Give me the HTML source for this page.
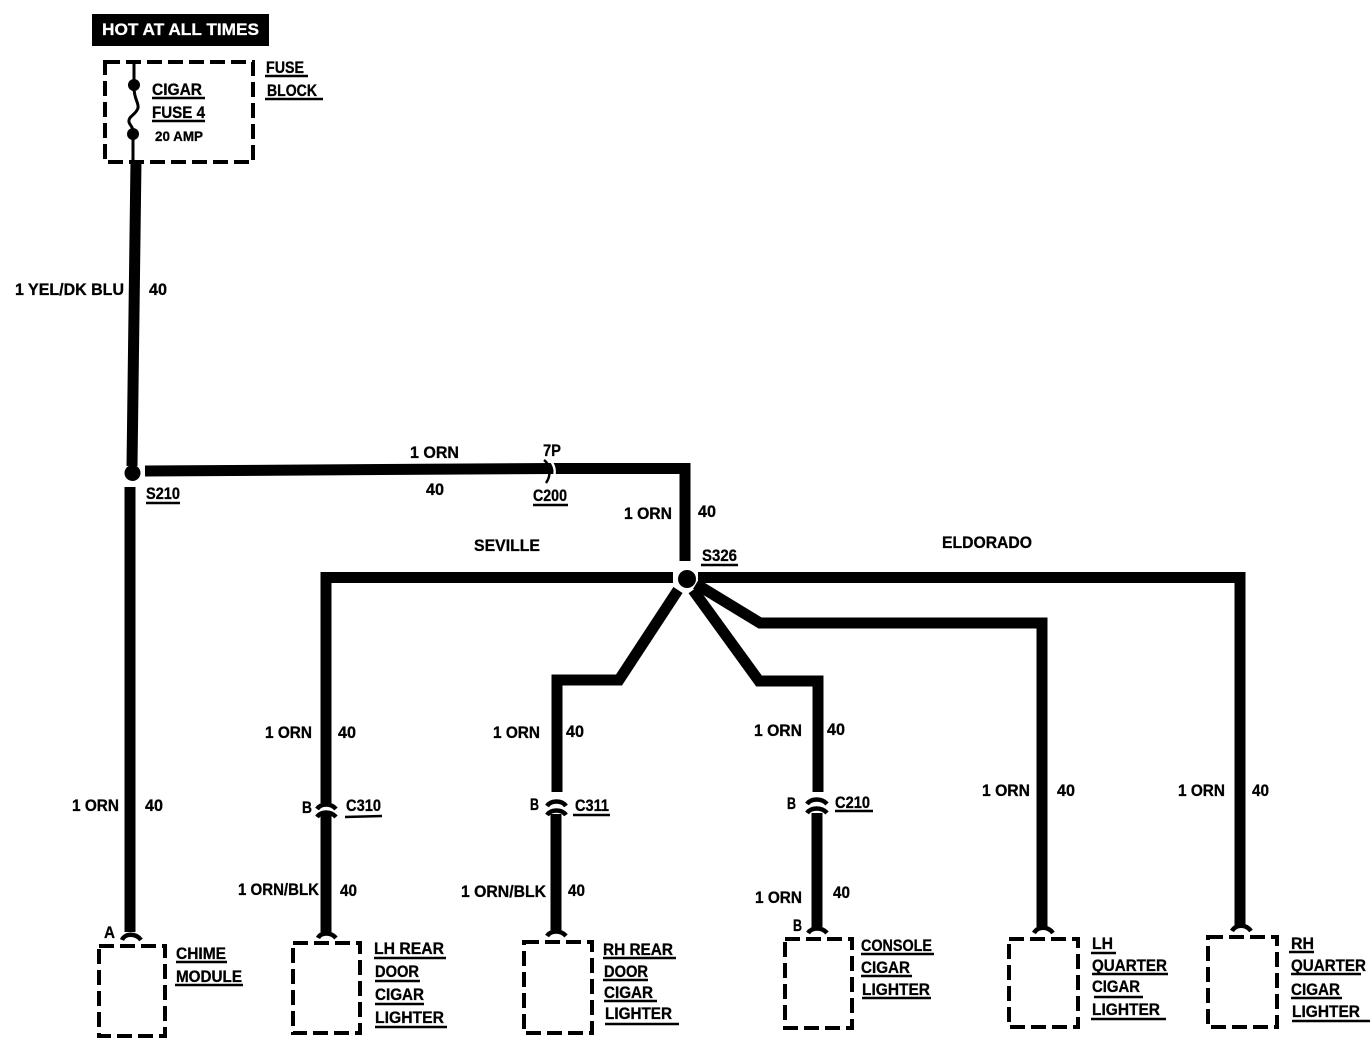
<!DOCTYPE html>
<html><head><meta charset="utf-8"><style>
html,body{margin:0;padding:0;background:#fff}
svg{display:block}
text{font-family:"Liberation Sans",sans-serif;font-weight:bold;font-size:16.5px;fill:#000;stroke:#000;stroke-width:.3px}
.w{fill:none;stroke:#000;stroke-width:11;stroke-linejoin:miter}
.d{fill:none;stroke:#000;stroke-width:4;stroke-dasharray:15 6}
.u{stroke:#000;stroke-width:2.5}
.c{fill:none;stroke:#000;stroke-width:4.5}
</style></head><body>
<svg width="1370" height="1056" viewBox="0 0 1370 1056" xmlns="http://www.w3.org/2000/svg">
<rect x="92" y="14" width="177" height="32" fill="#000"/>
<text x="102" y="35" textLength="157" lengthAdjust="spacingAndGlyphs" style="fill:#fff;stroke:#fff">HOT AT ALL TIMES</text>

<rect x="105" y="62" width="148" height="100" class="d"/>
<path d="M134 62V82M134 87C134 100 139 102 138 108C136 115 128 116 129 122C130 126 133 126 133 132M133 135V162" fill="none" stroke="#000" stroke-width="3"/>
<circle cx="134" cy="85" r="6"/><circle cx="133" cy="134" r="6"/>

<text x="152" y="95" textLength="50" lengthAdjust="spacingAndGlyphs">CIGAR</text>
<line x1="152" y1="98" x2="205" y2="98" class="u"/>
<text x="152" y="118" textLength="53" lengthAdjust="spacingAndGlyphs">FUSE 4</text>
<line x1="152" y1="121" x2="205" y2="121" class="u"/>
<text x="155" y="141" textLength="48" lengthAdjust="spacingAndGlyphs" style="font-size:14px">20 AMP</text>
<text x="266" y="73" textLength="38" lengthAdjust="spacingAndGlyphs">FUSE</text>
<line x1="265" y1="76" x2="308" y2="76" class="u"/>
<text x="267" y="96" textLength="50" lengthAdjust="spacingAndGlyphs">BLOCK</text>
<line x1="265" y1="99" x2="323" y2="99" class="u"/>

<path class="w" d="M136 160L132 466"/>
<circle cx="132.500" cy="473" r="8"/>
<path class="w" d="M130 487V932"/>
<path class="w" d="M145 471L555 468.500H685V561"/>
<path d="M544 460C551 465 551 476 546 483" fill="none" stroke="#000" stroke-width="2.5"/>
<path d="M550 460C556 467 556 474 552 482" fill="none" stroke="#fff" stroke-width="2.5"/>
<circle cx="687" cy="579" r="9"/>
<path class="w" d="M673 577.500H326V803"/>
<path class="w" d="M698 577.500H1240V927"/>
<path class="w" d="M678 590L619 680H557V792"/>
<path class="w" d="M693 590L759 681H818V792"/>
<path class="w" d="M696 584L760 623H1042V927"/>
<path class="w" d="M326 813V932"/>
<path class="w" d="M556 814V930"/>
<path class="w" d="M817 813V928"/>

<path class="c" d="M317 809C321 803 331 803 336 809M317 817C321 811 331 811 336 817"/>
<path class="c" d="M547 806C551 800 562 800 566 806M547 815C551 809 562 809 566 815"/>
<path class="c" d="M807 804C811 798 822 798 827 804M807 813C811 807 822 807 827 813"/>

<path class="c" d="M122 940C125 933 136 933 141 940"/>
<path class="c" d="M318 938C321 932 331 932 336 938"/>
<path class="c" d="M547 936C551 930 561 930 566 936"/>
<path class="c" d="M808 933C812 927 822 927 827 933"/>
<path class="c" d="M1034 933C1038 926 1048 926 1053 933"/>
<path class="c" d="M1232 931C1236 924 1246 924 1251 931"/>

<rect x="99" y="946" width="66" height="90" class="d"/>
<rect x="293" y="943" width="67" height="90" class="d"/>
<rect x="524" y="942" width="68" height="91" class="d"/>
<rect x="785" y="939" width="67" height="89" class="d"/>
<rect x="1009" y="939" width="69" height="88" class="d"/>
<rect x="1208" y="937" width="69" height="90" class="d"/>

<text x="15" y="295" textLength="109" lengthAdjust="spacingAndGlyphs">1 YEL/DK BLU</text>
<text x="149" y="295" textLength="18" lengthAdjust="spacingAndGlyphs">40</text>
<text x="410" y="458" textLength="49" lengthAdjust="spacingAndGlyphs">1 ORN</text>
<text x="426" y="495" textLength="18" lengthAdjust="spacingAndGlyphs">40</text>
<text x="543" y="456" textLength="18" lengthAdjust="spacingAndGlyphs">7P</text>
<text x="533" y="501" textLength="34" lengthAdjust="spacingAndGlyphs">C200</text>
<line x1="533" y1="505" x2="568" y2="505" class="u"/>
<text x="146" y="499" textLength="34" lengthAdjust="spacingAndGlyphs">S210</text>
<line x1="146" y1="503" x2="180" y2="503" class="u"/>
<text x="624" y="519" textLength="48" lengthAdjust="spacingAndGlyphs">1 ORN</text>
<text x="698" y="517" textLength="18" lengthAdjust="spacingAndGlyphs">40</text>
<text x="702" y="561" textLength="35" lengthAdjust="spacingAndGlyphs">S326</text>
<line x1="701" y1="565" x2="738" y2="565" class="u"/>
<text x="474" y="551" textLength="66" lengthAdjust="spacingAndGlyphs">SEVILLE</text>
<text x="942" y="548" textLength="90" lengthAdjust="spacingAndGlyphs">ELDORADO</text>

<text x="265" y="738" textLength="47" lengthAdjust="spacingAndGlyphs">1 ORN</text>
<text x="338" y="738" textLength="18" lengthAdjust="spacingAndGlyphs">40</text>
<text x="493" y="738" textLength="47" lengthAdjust="spacingAndGlyphs">1 ORN</text>
<text x="566" y="737" textLength="18" lengthAdjust="spacingAndGlyphs">40</text>
<text x="754" y="736" textLength="48" lengthAdjust="spacingAndGlyphs">1 ORN</text>
<text x="827" y="735" textLength="18" lengthAdjust="spacingAndGlyphs">40</text>
<text x="72" y="811" textLength="47" lengthAdjust="spacingAndGlyphs">1 ORN</text>
<text x="145" y="811" textLength="18" lengthAdjust="spacingAndGlyphs">40</text>
<text x="982" y="796" textLength="48" lengthAdjust="spacingAndGlyphs">1 ORN</text>
<text x="1057" y="796" textLength="18" lengthAdjust="spacingAndGlyphs">40</text>
<text x="1178" y="796" textLength="47" lengthAdjust="spacingAndGlyphs">1 ORN</text>
<text x="1252" y="796" textLength="17" lengthAdjust="spacingAndGlyphs">40</text>

<text x="302" y="813" textLength="10" lengthAdjust="spacingAndGlyphs">B</text>
<text x="346" y="811" textLength="35" lengthAdjust="spacingAndGlyphs">C310</text>
<line x1="345" y1="817" x2="382" y2="816" class="u"/>
<text x="530" y="810" textLength="9" lengthAdjust="spacingAndGlyphs">B</text>
<text x="575" y="811" textLength="34" lengthAdjust="spacingAndGlyphs">C311</text>
<line x1="573" y1="815" x2="610" y2="815" class="u"/>
<text x="787" y="809" textLength="9" lengthAdjust="spacingAndGlyphs">B</text>
<text x="835" y="808" textLength="35" lengthAdjust="spacingAndGlyphs">C210</text>
<line x1="835" y1="811" x2="873" y2="811" class="u"/>

<text x="238" y="895" textLength="81" lengthAdjust="spacingAndGlyphs">1 ORN/BLK</text>
<text x="340" y="896" textLength="17" lengthAdjust="spacingAndGlyphs">40</text>
<text x="461" y="897" textLength="85" lengthAdjust="spacingAndGlyphs">1 ORN/BLK</text>
<text x="568" y="896" textLength="17" lengthAdjust="spacingAndGlyphs">40</text>
<text x="755" y="903" textLength="47" lengthAdjust="spacingAndGlyphs">1 ORN</text>
<text x="833" y="898" textLength="17" lengthAdjust="spacingAndGlyphs">40</text>

<text x="104" y="938" textLength="11" lengthAdjust="spacingAndGlyphs">A</text>
<text x="793" y="931" textLength="9" lengthAdjust="spacingAndGlyphs">B</text>

<text x="176" y="959" textLength="50" lengthAdjust="spacingAndGlyphs">CHIME</text>
<line x1="176" y1="962" x2="227" y2="962" class="u"/>
<text x="176" y="982" textLength="66" lengthAdjust="spacingAndGlyphs">MODULE</text>
<line x1="175" y1="985" x2="243" y2="985" class="u"/>

<text x="374" y="954" textLength="70" lengthAdjust="spacingAndGlyphs">LH REAR</text>
<line x1="374" y1="958" x2="446" y2="958" class="u"/>
<text x="375" y="977" textLength="44" lengthAdjust="spacingAndGlyphs">DOOR</text>
<line x1="375" y1="981" x2="420" y2="981" class="u"/>
<text x="375" y="1000" textLength="49" lengthAdjust="spacingAndGlyphs">CIGAR</text>
<line x1="375" y1="1004" x2="424" y2="1004" class="u"/>
<text x="375" y="1023" textLength="69" lengthAdjust="spacingAndGlyphs">LIGHTER</text>
<line x1="375" y1="1027" x2="447" y2="1027" class="u"/>

<text x="603" y="955" textLength="70" lengthAdjust="spacingAndGlyphs">RH REAR</text>
<line x1="603" y1="958" x2="676" y2="958" class="u"/>
<text x="604" y="977" textLength="44" lengthAdjust="spacingAndGlyphs">DOOR</text>
<line x1="603" y1="980" x2="648" y2="980" class="u"/>
<text x="604" y="998" textLength="49" lengthAdjust="spacingAndGlyphs">CIGAR</text>
<line x1="604" y1="1001" x2="657" y2="1001" class="u"/>
<text x="605" y="1019" textLength="67" lengthAdjust="spacingAndGlyphs">LIGHTER</text>
<line x1="605" y1="1024" x2="679" y2="1024" class="u"/>

<text x="861" y="951" textLength="71" lengthAdjust="spacingAndGlyphs">CONSOLE</text>
<line x1="861" y1="954" x2="934" y2="954" class="u"/>
<text x="861" y="973" textLength="49" lengthAdjust="spacingAndGlyphs">CIGAR</text>
<line x1="861" y1="976" x2="912" y2="976" class="u"/>
<text x="862" y="995" textLength="68" lengthAdjust="spacingAndGlyphs">LIGHTER</text>
<line x1="862" y1="998" x2="931" y2="998" class="u"/>

<text x="1092" y="949" textLength="21" lengthAdjust="spacingAndGlyphs">LH</text>
<line x1="1091" y1="953" x2="1116" y2="953" class="u"/>
<text x="1092" y="971" textLength="75" lengthAdjust="spacingAndGlyphs">QUARTER</text>
<line x1="1092" y1="974" x2="1168" y2="974" class="u"/>
<text x="1092" y="992" textLength="48" lengthAdjust="spacingAndGlyphs">CIGAR</text>
<line x1="1094" y1="997" x2="1143" y2="997" class="u"/>
<text x="1092" y="1015" textLength="68" lengthAdjust="spacingAndGlyphs">LIGHTER</text>
<line x1="1091" y1="1019" x2="1166" y2="1019" class="u"/>

<text x="1291" y="949" textLength="23" lengthAdjust="spacingAndGlyphs">RH</text>
<line x1="1289" y1="952" x2="1314" y2="952" class="u"/>
<text x="1291" y="971" textLength="75" lengthAdjust="spacingAndGlyphs">QUARTER</text>
<line x1="1291" y1="974" x2="1361" y2="974" class="u"/>
<text x="1291" y="995" textLength="49" lengthAdjust="spacingAndGlyphs">CIGAR</text>
<line x1="1291" y1="998" x2="1342" y2="998" class="u"/>
<text x="1292" y="1017" textLength="68" lengthAdjust="spacingAndGlyphs">LIGHTER</text>
<line x1="1292" y1="1021" x2="1370" y2="1021" class="u"/>
</svg>
</body></html>
